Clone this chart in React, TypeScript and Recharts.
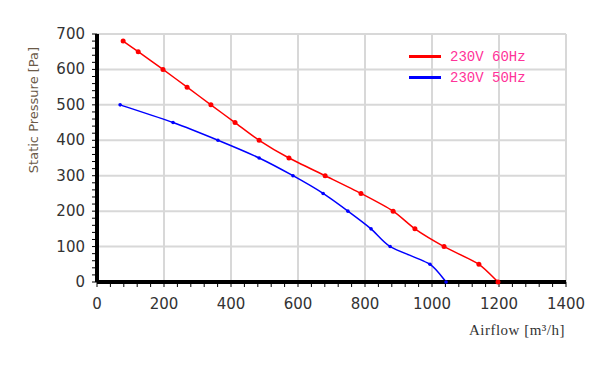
import React from 'react';
import { LineChart, Line, XAxis, YAxis, CartesianGrid } from 'recharts';

const airflow60 = [78, 123, 197, 269, 340, 412, 484, 573, 681, 788, 884, 949, 1036, 1140, 1197];
const pressure60 = [680, 650, 600, 550, 500, 450, 400, 350, 300, 250, 200, 150, 100, 50, 0];
const airflow50 = [69, 227, 361, 484, 585, 675, 749, 818, 875, 994, 1042];
const pressure50 = [500, 450, 400, 350, 300, 250, 200, 150, 100, 50, 0];

const majorX = [0, 200, 400, 600, 800, 1000, 1200, 1400];
const majorY = [0, 100, 200, 300, 400, 500, 600, 700];
const minorX = Array.from({ length: 36 }, (_, i) => i * 40);
const minorY = Array.from({ length: 36 }, (_, i) => i * 20);

const seriesNames = ['230V 60Hz', '230V 50Hz'];
const seriesColors = ['#ff0000', '#0000ff'];

const data60 = airflow60.map((a, i) => ({ airflow: a, p: pressure60[i] }));
const data50 = airflow50.map((a, i) => ({ airflow: a, p: pressure50[i] }));

const tickFont = { fontFamily: 'DejaVu Sans', fontSize: 15, fill: '#333' };

// cardinal spline curve factory
const cardinal = (tension: number) => (context: any) => {
  let pts: number[][] = [];
  return {
    areaStart() {},
    areaEnd() {},
    lineStart() { pts = []; },
    point(x: number, y: number) { pts.push([+x, +y]); },
    lineEnd() {
      if (!pts.length) return;
      const k = (1 - tension) / 6;
      context.moveTo(pts[0][0], pts[0][1]);
      for (let i = 0; i < pts.length - 1; i++) {
        const p0 = pts[i - 1] || pts[i];
        const p1 = pts[i];
        const p2 = pts[i + 1];
        const p3 = pts[i + 2] || pts[i + 1];
        context.bezierCurveTo(
          p1[0] + k * (p2[0] - p0[0]), p1[1] + k * (p2[1] - p0[1]),
          p2[0] - k * (p3[0] - p1[0]), p2[1] - k * (p3[1] - p1[1]),
          p2[0], p2[1]
        );
      }
    },
  };
};
const curve = cardinal(0.3);

const XTick = (props: any) => {
  const { x, y, payload } = props;
  if (!majorX.includes(payload.value)) return null;
  return (
    <text x={x} y={y} dy={14} textAnchor="middle" {...tickFont}>
      {payload.value}
    </text>
  );
};

const YTick = (props: any) => {
  const { x, y, payload } = props;
  if (!majorY.includes(payload.value)) return null;
  return (
    <text x={x} y={y} dy={5} textAnchor="end" {...tickFont}>
      {payload.value}
    </text>
  );
};

export default function App() {
  return (
    <div style={{ position: 'absolute', left: 0, top: 0, width: 610, height: 369, background: '#fff' }}>
      <LineChart
        width={610}
        height={369}
        margin={{ top: 34, right: 44, bottom: 57, left: 47 }}
      >
        <CartesianGrid
          stroke="#d8d8d8"
          strokeWidth={2}
          horizontalValues={majorY}
          verticalValues={majorX}
        />
        <XAxis
          dataKey="airflow"
          type="number"
          domain={[0, 1400]}
          ticks={minorX}
          interval={0}
          height={30}
          tickSize={5}
          tickMargin={8}
          axisLine={{ stroke: '#000', strokeWidth: 4 }}
          tickLine={{ stroke: '#000', strokeWidth: 1 }}
          tick={<XTick />}
          allowDuplicatedCategory={false}
        />
        <YAxis
          type="number"
          domain={[0, 700]}
          ticks={minorY}
          interval={0}
          width={50}
          tickSize={5}
          tickMargin={7}
          axisLine={{ stroke: '#000', strokeWidth: 4 }}
          tickLine={{ stroke: '#000', strokeWidth: 1 }}
          tick={<YTick />}
        />
        <Line
          data={data60}
          dataKey="p"
          name={seriesNames[0]}
          type={curve as any}
          stroke={seriesColors[0]}
          strokeWidth={1.5}
          dot={{ r: 2.5, fill: seriesColors[0], stroke: seriesColors[0], strokeWidth: 0 }}
          isAnimationActive={false}
        />
        <Line
          data={data50}
          dataKey="p"
          name={seriesNames[1]}
          type={curve as any}
          stroke={seriesColors[1]}
          strokeWidth={1.5}
          dot={{ r: 1.8, fill: seriesColors[1], stroke: seriesColors[1], strokeWidth: 0 }}
          isAnimationActive={false}
        />
        <text x={33} y={110} transform="rotate(-90 33 110)" textAnchor="middle" dominantBaseline="central" fontFamily="DejaVu Sans" fontSize={13} fill="#6b5a48">
          Static Pressure [Pa]
        </text>
        <text x={565} y={335} textAnchor="end" fontFamily="Liberation Serif" fontSize={15} letterSpacing={0.5} fill="#333">
          Airflow [m³/h]
        </text>
      </LineChart>
      <div style={{ position: 'absolute', left: 409, top: 46, fontFamily: 'Liberation Mono', fontSize: 14, color: '#ff3399' }}>
        {seriesNames.map((n, i) => (
          <div key={n} style={{ display: 'flex', alignItems: 'center', height: 21 }}>
            <div style={{ width: 32, height: 3, background: seriesColors[i], marginRight: 9 }} />
            <span>{n}</span>
          </div>
        ))}
      </div>
    </div>
  );
}
